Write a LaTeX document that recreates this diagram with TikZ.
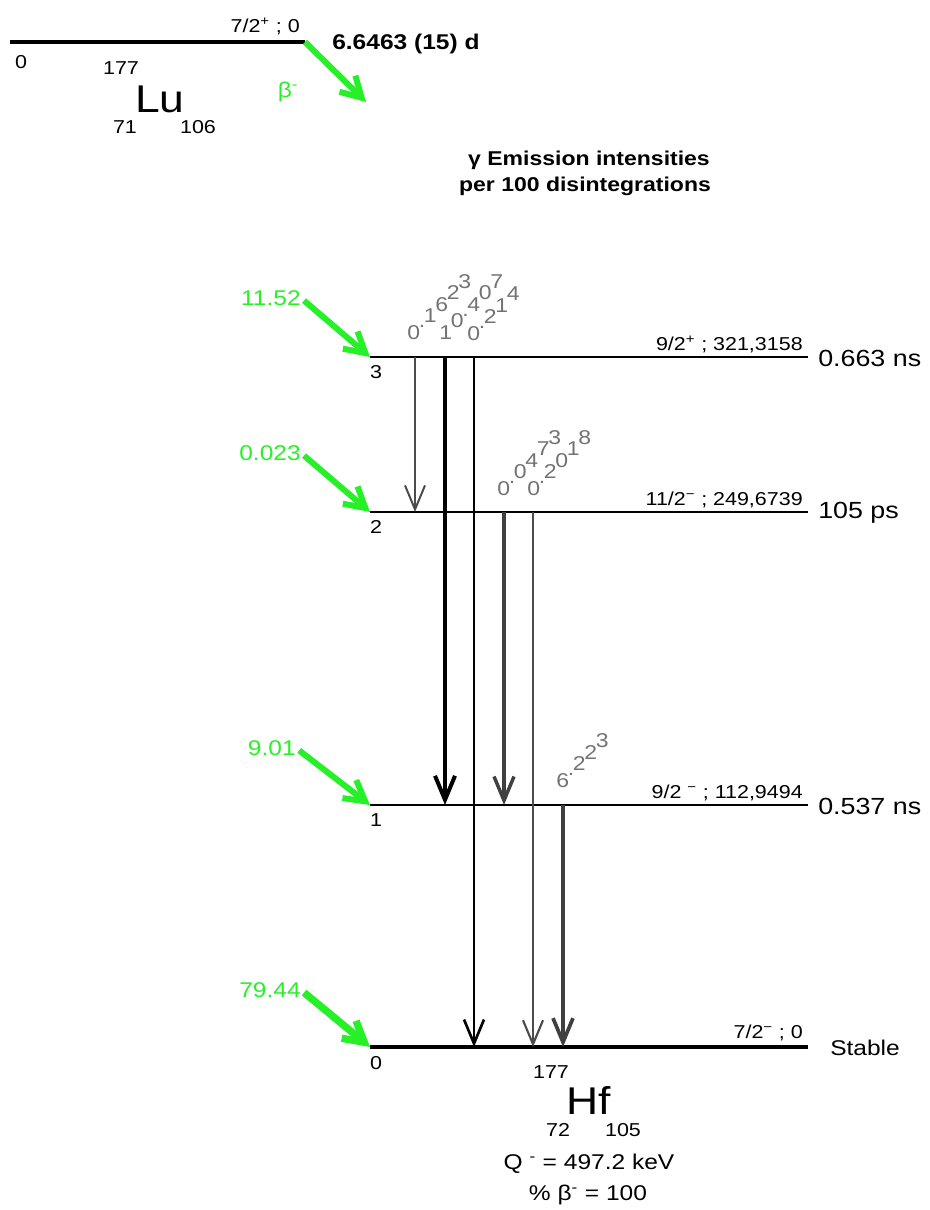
\documentclass[tikz,border=0pt]{standalone}
\usepackage{fontspec}
\setmainfont[FakeStretch=1.15]{Liberation Sans}
\usetikzlibrary{arrows.meta}
\definecolor{feedgreen}{RGB}{40,240,40}
\definecolor{gamgray}{RGB}{115,115,115}
\tikzset{
  small/.style={font=\fontsize{14}{16}\selectfont, inner sep=0pt},
  big/.style={font=\fontsize{16}{19}\selectfont, inner sep=0pt},
  life/.style={font=\fontsize{17.5}{20}\selectfont, inner sep=0pt, anchor=west},
  elem/.style={font=\fontsize{29}{32}\selectfont, inner sep=0pt},
  feed/.style={draw=feedgreen, line width=4.5pt, shorten <=3pt,
    -{Straight Barb[length=15pt,width=17pt]}},
  gam/.style={-{Straight Barb[length=18pt,width=15pt]}},
  digit/.style={gamgray, font=\fontsize{15}{17}\selectfont, inner sep=0pt, anchor=base west},
}
\def\dotchar{.}
% intensity digits stepping up along a diagonal
\newcommand\gamlabel[3]{%
  \coordinate (#1) at #2;
  \foreach \c [count=\i] in {#3}{
    \ifx\c\dotchar \def\adv{5}\else \def\adv{11.5}\fi
    \node[digit] (#1-\i) at (#1) {\c};
    \path (#1) ++(\adv,-\adv) coordinate (#1);
  }}
\begin{document}
\begin{tikzpicture}[x=0.75pt, y=-0.75pt]
  \useasboundingbox (0,0) rectangle (929,1210);

  % parent level
  \coordinate (luw) at (10,42);
  \coordinate (lue) at (305,42);
  \coordinate (betaend) at (366,102);
  \draw[line width=3pt] (luw) -- (lue);
  \node[small, anchor=south east] (lulab) at (300,35) {7/2\textsuperscript{+} ; 0};
  \node[small] (lunum) at (21,62) {0};
  \node[small] (lua) at (121,68) {177};
  \node[elem] (lu) at (160,99) {Lu};
  \node[small] (luz) at (125,127) {71};
  \node[small] (lun) at (198,127) {106};
  \node[big, feedgreen] (beta) at (288,92) {β\textsuperscript{-}};
  \draw[feed, shorten <=0pt] (lue) -- (betaend);
  \node[big, font=\fontsize{16}{19}\bfseries, anchor=west] (luhalf) at (332,44) {6.6463 (15) d};

  \node[big, font=\fontsize{15}{18}\bfseries] (head1) at (589,160) {γ Emission intensities};
  \node[big, font=\fontsize{15}{18}\bfseries] (head2) at (585,186) {per 100 disintegrations};

  % daughter levels
  \foreach \n/\y/\spin/\life in {3/357/{9/2\textsuperscript{+} ; 321,3158}/{0.663 ns},
      2/512/{11/2\textsuperscript{−} ; 249,6739}/{105 ps},
      1/805/{9/2 \textsuperscript{−} ; 112,9494}/{0.537 ns}}{
    \coordinate (L\n w) at (370,\y);
    \coordinate (L\n e) at (808,\y);
    \draw[line width=1pt] (L\n w) -- (L\n e);
    \draw[line width=2pt] (650,\y) -- (L\n e);
    \node[small, anchor=south east] (spin\n) at (803,\y-4) {\spin};
    \node[life] (life\n) at (818,\y+1) {\life};
    \node[small] (num\n) at (376,\y+15) {\n};
  }
  \coordinate (L0w) at (370,1047);
  \coordinate (L0e) at (808,1047);
  \draw[line width=3pt] (L0w) -- (L0e);
  \node[small, anchor=south east] (spin0) at (803,1041) {7/2\textsuperscript{−} ; 0};
  \node[big, anchor=west] (life0) at (830,1048) {Stable};
  \node[small] (num0) at (376,1063) {0};
  \draw[line width=1.8pt] (L3w) -- (475,357);
  \draw[line width=1.8pt] (L2w) -- (533,512);

  % beta feeding
  \node[big, feedgreen, anchor=east] (f3) at (301,298) {11.52};
  \node[big, feedgreen, anchor=east] (f2) at (301,453) {0.023};
  \node[big, feedgreen, anchor=east] (f1) at (296,748) {9.01};
  \node[big, feedgreen, anchor=east] (f0) at (301,990) {79.44};
  \draw[feed] (f3.east) -- (L3w);
  \draw[feed] (f2.east) -- (L2w);
  \draw[feed] (f1.east) -- (L1w);
  \draw[feed, line width=5.5pt] (f0.east) -- (L0w);

  % gamma transitions
  \coordinate (x32) at (415,0);
  \coordinate (x31) at (445,0);
  \coordinate (x30) at (474,0);
  \coordinate (x21) at (504,0);
  \coordinate (x20) at (533,0);
  \coordinate (x10) at (563,0);
  \draw[gam, line width=1.5pt, black!70] (L3w -| x32) -- (L2w -| x32);
  \draw[gam, line width=3pt] (L3w -| x31) -- (L1w -| x31);
  \draw[gam, line width=2pt] (L3w -| x30) -- (L0w -| x30);
  \draw[gam, line width=2.6pt, black!75] (L2w -| x21) -- (L1w -| x21);
  \draw[gam, line width=1.6pt, black!70] (L2w -| x20) -- (L0w -| x20);
  \draw[gam, line width=2.8pt, black!75] (L1w -| x10) -- (L0w -| x10);

  \gamlabel{g32}{(407,339)}{0,.,1,6,2,3}
  \gamlabel{g31}{(439,339)}{1,0,.,4,0,7}
  \gamlabel{g30}{(467,340)}{0,.,2,1,4}
  \gamlabel{g21}{(497,495)}{0,.,0,4,7,3}
  \gamlabel{g20}{(527,495)}{0,.,2,0,1,8}
  \gamlabel{g10}{(556,787)}{6,.,2,2,3}

  % daughter nucleus
  \node[small] (hfa) at (551,1072) {177};
  \node[elem] (hf) at (589,1100) {Hf};
  \node[small] (hfz) at (558,1130) {72};
  \node[small] (hfn) at (623,1130) {105};
  \node[big] (qval) at (589,1164) {Q \textsuperscript{-} = 497.2 keV};
  \node[big] (bpct) at (588,1195) {\% β\textsuperscript{-} = 100};
\end{tikzpicture}
\end{document}
